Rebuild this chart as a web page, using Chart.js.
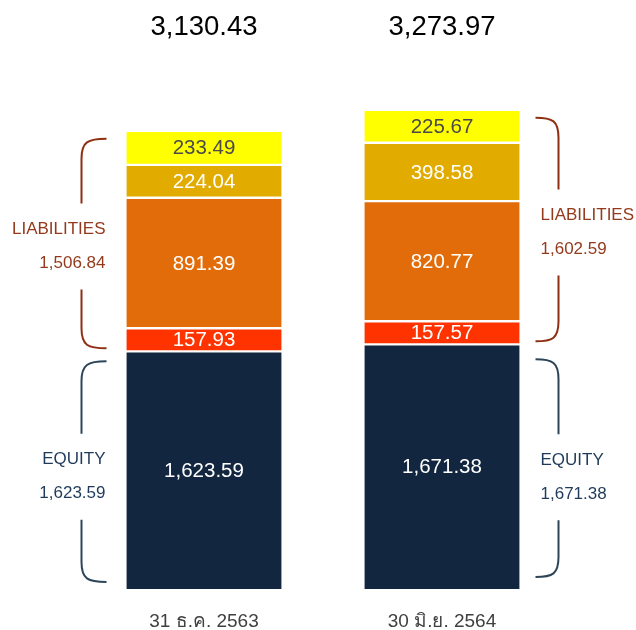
<!DOCTYPE html>
<html>
<head>
<meta charset="utf-8">
<script src="https://cdn.jsdelivr.net/npm/chart.js@4.4.1/dist/chart.umd.min.js"></script>
<style>
  html, body { margin: 0; padding: 0; background: #ffffff; }
  #wrap { width: 636px; height: 630px; }
</style>
</head>
<body>
<div id="wrap"><canvas id="c" width="636" height="630"></canvas></div>
<script>
const categories = ['31 ธ.ค. 2563', '30 มิ.ย. 2564'];
const equity = [1623.59, 1671.38];
const liabRed = [157.93, 157.57];
const liabOrange = [891.39, 820.77];
const liabGold = [224.04, 398.58];
const liabYellow = [233.49, 225.67];
const totals = [3130.43, 3273.97];
const liabTotals = [1506.84, 1602.59];
const equityTotals = [1623.59, 1671.38];

const fmt = v => v.toLocaleString('en-US', {minimumFractionDigits: 2, maximumFractionDigits: 2});
const FONT = "'Liberation Sans', Arial, Helvetica, sans-serif";

const seriesDefs = [
  {label: 'EQUITY', data: equity, color: '#12263f', text: '#ffffff'},
  {label: 'L1', data: liabRed, color: '#ff3300', text: '#ffffff'},
  {label: 'L2', data: liabOrange, color: '#e36c0a', text: '#ffffff'},
  {label: 'L3', data: liabGold, color: '#e2ab00', text: '#ffffff'},
  {label: 'L4', data: liabYellow, color: '#ffff00', text: '#4a4a4a'}
];

const overlay = {
  id: 'overlay',
  afterDatasetsDraw(chart) {
    const ctx = chart.ctx;
    const ys = chart.scales.y;
    ctx.save();
    chart.data.datasets.forEach((ds, di) => {
      const meta = chart.getDatasetMeta(di);
      meta.data.forEach((bar, i) => {
        const cy = (bar.y + bar.base) / 2;
        ctx.font = '20.5px ' + FONT;
        ctx.fillStyle = seriesDefs[di].text;
        ctx.textAlign = 'center';
        ctx.textBaseline = 'middle';
        ctx.fillText(fmt(ds.data[i]), bar.x, cy + 1);
      });
    });
    const meta0 = chart.getDatasetMeta(0);
    ctx.font = '27.5px ' + FONT;
    ctx.fillStyle = '#000000';
    ctx.textAlign = 'center';
    ctx.textBaseline = 'middle';
    meta0.data.forEach((bar, i) => {
      ctx.fillText(fmt(totals[i]), bar.x, chart.chartArea.top - 35);
    });

    function brace(xEnd, xVert, y0, y1, gc, color) {
      const r = 20;
      const gh = 43;
      ctx.strokeStyle = color;
      ctx.lineWidth = 2;
      ctx.beginPath();
      ctx.moveTo(xEnd, y0);
      ctx.bezierCurveTo(xEnd + (xVert - xEnd) * 0.75, y0, xVert, y0 + 3, xVert, y0 + r);
      ctx.lineTo(xVert, gc - gh);
      ctx.moveTo(xVert, gc + gh);
      ctx.lineTo(xVert, y1 - r);
      ctx.bezierCurveTo(xVert, y1 - 3, xEnd + (xVert - xEnd) * 0.75, y1, xEnd, y1);
      ctx.stroke();
    }
    function labels(align, x, gc, title, value, color) {
      ctx.font = '17px ' + FONT;
      ctx.fillStyle = color;
      ctx.textAlign = align;
      ctx.textBaseline = 'middle';
      ctx.fillText(title, x, gc - 17);
      ctx.fillText(value, x, gc + 17);
    }
    const liabColor = '#8e2f12';
    const liabText = '#943a1c';
    const eqColor = '#2c4559';
    const eqText = '#1f3a5a';
    meta0.data.forEach((bar, i) => {
      const half = bar.width / 2;
      const left = i === 0;
      const edge = left ? bar.x - half : bar.x + half;
      const xEnd = left ? edge - 20 : edge + 16;
      const xVert = left ? edge - 45 : edge + 39;
      const xText = left ? edge - 21 : edge + 21;
      const align = left ? 'right' : 'left';
      const yTop = ys.getPixelForValue(totals[i]);
      const yEq = ys.getPixelForValue(equity[i]);
      const yZero = ys.getPixelForValue(0);
      const l0 = yTop + 8, l1 = yEq - 3;
      const lc = (l0 + l1) / 2 + 3;
      brace(xEnd, xVert, l0, l1, lc, liabColor);
      labels(align, xText, lc, 'LIABILITIES', fmt(liabTotals[i]), liabText);
      const e0 = yEq + (left ? 10 : 15), e1 = yZero - (left ? 7 : 12);
      const ec = (e0 + e1) / 2 + (left ? 5 : 9);
      brace(xEnd, xVert, e0, e1, ec, eqColor);
      labels(align, xText, ec, 'EQUITY', fmt(equityTotals[i]), eqText);
    });
    ctx.restore();
  }
};

new Chart(document.getElementById('c'), {
  type: 'bar',
  data: {
    labels: categories,
    datasets: seriesDefs.map((s, k) => ({
      label: s.label,
      data: s.data,
      backgroundColor: s.color,
      borderColor: '#ffffff',
      borderWidth: {top: 1.5, bottom: k === 0 ? 0 : 1.5, left: 0, right: 0},
      borderSkipped: false,
      barThickness: 155
    }))
  },
  options: {
    responsive: false,
    animation: false,
    devicePixelRatio: 1,
    layout: { padding: {top: 62, left: 85, right: 75, bottom: 0} },
    plugins: { legend: {display: false}, tooltip: {enabled: false} },
    scales: {
      x: {
        stacked: true,
        grid: {display: false, drawTicks: false},
        border: {display: false},
        ticks: { font: {size: 19, family: FONT}, color: '#404040', padding: 21 },
        afterFit(scale) { scale.height = 41; }
      },
      y: {
        stacked: true,
        display: false,
        min: 0,
        max: 3600
      }
    }
  },
  plugins: [overlay]
});
</script>
</body>
</html>
